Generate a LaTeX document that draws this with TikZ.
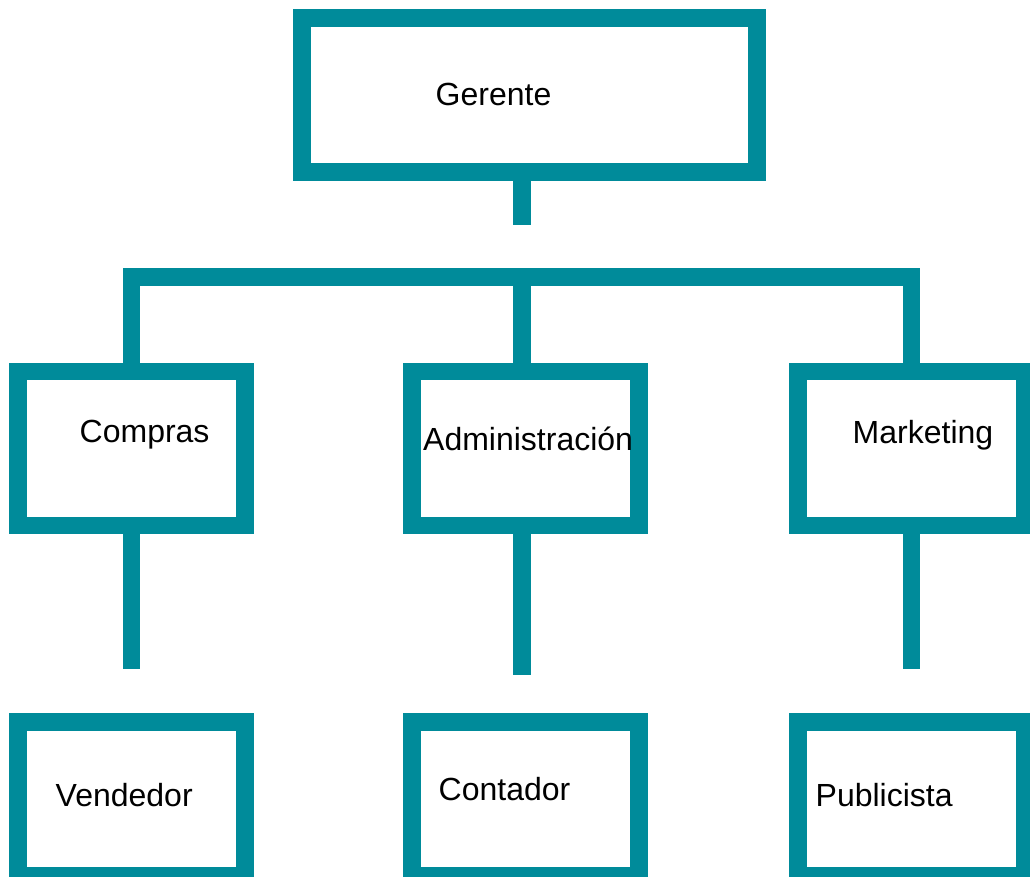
\documentclass[tikz,border=0pt]{standalone}
\usepackage{fontspec}
\setmainfont{Liberation Sans}
\definecolor{orgteal}{RGB}{0,139,154}

\begin{document}
\begin{tikzpicture}[x=1pt,y=-1pt,
  puesto/.style={draw=orgteal, line width=17.5pt, rectangle, minimum width=227pt, minimum height=154pt, inner sep=0pt},
  etiqueta/.style={anchor=base west, inner sep=0pt, font=\fontsize{32}{38}\selectfont},
  enlace/.style={draw=orgteal, line width=17.5pt, line join=miter}]

  \clip (0,0) rectangle (1030,877);

  % cajas
  \node[puesto, minimum width=455pt] (gerente) at (529.5,95) {};
  \foreach \n/\x/\y in {compras/131.5/448.5, admin/525.5/448.5, marketing/911.5/448.5,
    vendedor/131.5/799, contador/525.5/799, publicista/911.5/799}{
    \node[puesto] (\n) at (\x,\y) {};
  }

  % textos
  \foreach \n/\x/\y/\t in {Gerente/435.5/106/Gerente, Compras/79.5/442.7/Compras,
    Admin/423/450.7/Administración, Marketing/852.5/443.3/Marketing,
    Vendedor/55.5/806/Vendedor, Contador/438.5/800/Contador, Publicista/815.5/806/Publicista}{
    \node[etiqueta] (t\n) at (\x,\y) {\t};
  }

  % lineas
  \coordinate (barra) at (522,277);
  \coordinate (finG) at (522,225);
  \coordinate (finC) at (131.5,669);
  \coordinate (finA) at (522,675);
  \coordinate (finM) at (911.5,669);
  \draw[enlace] (gerente.south -| finG) -- (finG);
  \draw[enlace] (compras.north) |- (barra) -| (marketing.north);
  \draw[enlace] (barra) -- (admin.north -| barra);
  \draw[enlace] (compras.south) -- (finC);
  \draw[enlace] (admin.south -| finA) -- (finA);
  \draw[enlace] (marketing.south) -- (finM);

\end{tikzpicture}
\end{document}
